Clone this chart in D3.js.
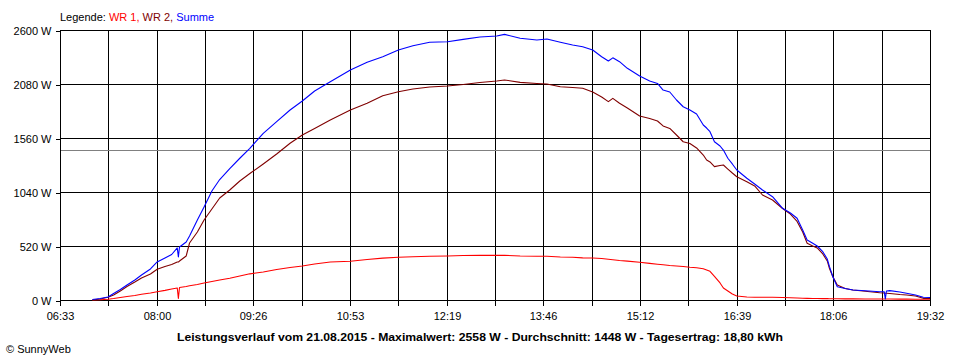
<!DOCTYPE html>
<html><head><meta charset="utf-8">
<script src="https://cdn.jsdelivr.net/npm/d3@7"></script>
<style>
body{margin:0;background:#fff}
svg text{font-family:"Liberation Sans",Arial,sans-serif}
</style>
</head><body>
<svg id="chart" width="960" height="360"></svg>
<script>
// ---- data ----
const times = ["07:02","07:09","07:16","07:21","07:27","07:33","07:40","07:46","07:54","08:00",
"08:07","08:13","08:18","08:19","08:20","08:26","08:29","08:36","08:42","08:49",
"08:56","09:05","09:14","09:23","09:35","09:47","09:59","10:10","10:21","10:35",
"10:53","11:08","11:22","11:36","11:49","12:04","12:20","12:34","12:49","13:04",
"13:11","13:25","13:40","13:49","14:01","14:12","14:21","14:30","14:38","14:44",
"14:48","14:54","15:01","15:12","15:21","15:28","15:33","15:39","15:45","15:51",
"15:57","16:03","16:09","16:12","16:15","16:19","16:24","16:27","16:31","16:35",
"16:39","16:48","16:55","17:02","17:11","17:20","17:27","17:33","17:38","17:42",
"17:47","17:51","17:56","18:00","18:02","18:05","18:09","18:16","18:23","18:34",
"18:47","18:51","18:52","18:53","18:56","19:05","19:11","19:19","19:26","19:32"];
const wr1 = [0,2,7,14,24,34,43,55,67,80,
93,106,116,14,120,130,137,149,164,178,
193,209,231,252,270,294,313,327,347,366,
373,390,403,411,417,422,424,429,430,430,
430,424,422,421,414,411,406,404,400,393,
388,380,374,364,353,345,340,332,327,323,
315,310,301,289,276,228,164,116,87,58,
39,29,26,26,26,24,21,19,17,16,
14,14,13,13,12,12,12,11,11,10,
10,9,9,9,9,8,8,7,7,7];
const wr2 = [0,10,26,48,87,130,173,212,250,296,
323,342,366,366,375,424,549,655,770,876,
982,1059,1146,1218,1310,1406,1509,1589,1651,1733,
1830,1894,1967,2006,2032,2051,2061,2075,2094,2109,
2119,2096,2085,2080,2054,2046,2039,2003,1955,1910,
1942,1894,1849,1772,1748,1724,1676,1652,1589,1524,
1507,1464,1396,1348,1329,1284,1295,1300,1261,1223,
1187,1139,1098,1011,963,881,828,756,655,546,
520,501,443,376,303,224,144,111,96,84,
70,67,65,65,63,53,48,39,16,14];
const summe = [5,14,29,63,101,144,193,241,299,366,
404,438,501,414,510,559,616,770,896,1050,
1160,1266,1365,1461,1605,1717,1830,1916,2013,2102,
2215,2289,2343,2407,2449,2482,2487,2510,2533,2542,
2558,2520,2504,2513,2482,2456,2439,2407,2343,2301,
2332,2295,2231,2157,2109,2085,2022,2003,1926,1861,
1830,1791,1685,1656,1621,1524,1483,1444,1365,1310,
1252,1172,1117,1059,995,883,838,787,674,578,
546,520,465,395,321,224,128,111,96,89,
80,80,10,87,90,77,65,48,26,24];
const yTicks = [0,520,1040,1560,2080,2600];
const xTickLabels = ["06:33","08:00","09:26","10:53","12:19","13:46","15:12","16:39","18:06","19:32"];
const xStart = "06:33", xEnd = "19:32";
const average = 1448;
const seriesNames = ["WR 1","WR 2","Summe"];
const seriesColors = ["#ff0000","#800000","#0000ff"];
const legendLabel = "Legende:";
const title = "Leistungsverlauf vom 21.08.2015 - Maximalwert: 2558 W - Durchschnitt: 1448 W - Tagesertrag: 18,80 kWh";
const copyright = "\u00A9 SunnyWeb";

// ---- drawing ----
const toMin = s => { const [h,m] = s.split(":").map(Number); return h*60+m; };
const svg = d3.select("#chart");
const L = 60, R = 930, T = 30, B = 300;
const x = d3.scaleLinear().domain([toMin(xStart), toMin(xEnd)]).range([L, R]);
const y = d3.scaleLinear().domain([0, 2600]).range([B, T]);

const nGrid = (xTickLabels.length - 1) * 2;
const x0 = toMin(xStart), x1 = toMin(xEnd);
const xGrid = d3.range(nGrid + 1).map(i => x0 + i * (x1 - x0) / nGrid);

const grid = svg.append("g").attr("shape-rendering","crispEdges").attr("stroke","#000").attr("stroke-width",1);
grid.selectAll(".v").data(xGrid).enter().append("line")
  .attr("x1", d => Math.round(x(d)) + 0.5).attr("x2", d => Math.round(x(d)) + 0.5)
  .attr("y1", T).attr("y2", B);
grid.selectAll(".h").data(yTicks).enter().append("line")
  .attr("x1", L).attr("x2", R + 1)
  .attr("y1", d => Math.round(y(d)) + 0.5).attr("y2", d => Math.round(y(d)) + 0.5);

// average line
svg.append("line").attr("shape-rendering","crispEdges")
  .attr("x1", L + 1).attr("x2", R)
  .attr("y1", Math.round(y(average)) + 0.5).attr("y2", Math.round(y(average)) + 0.5)
  .attr("stroke", "#808080");

// axes
const yAxis = d3.axisLeft(y).tickValues(yTicks).tickSize(5).tickPadding(4).tickFormat(d => d + " W");
const gy = svg.append("g").attr("transform", `translate(${L + 0.5},0.5)`).call(yAxis);
gy.select(".domain").remove();
gy.selectAll("line").attr("stroke", "#000").attr("shape-rendering","crispEdges");
gy.selectAll("text").attr("font-size", 11).attr("fill", "#000")
  .attr("y", d => Math.round(y(d)) - y(d));

const xAxis = d3.axisBottom(x).tickValues(xGrid).tickSize(5).tickPadding(7)
  .tickFormat((d, i) => i % 2 === 0 ? xTickLabels[i / 2] : "");
const gx = svg.append("g").attr("transform", `translate(0.5,${B + 0.5})`).call(xAxis);
gx.select(".domain").remove();
gx.selectAll(".tick").attr("transform", d => `translate(${Math.round(x(d))},0)`);
gx.selectAll("line").attr("stroke", "#000").attr("shape-rendering","crispEdges");
gx.selectAll("text").attr("font-size", 11).attr("fill", "#000");

// series
const seriesData = [wr1, wr2, summe];
const line = d3.line().x((d, i) => x(toMin(times[i]))).y(d => y(d));
seriesData.forEach((vals, k) => {
  svg.append("path").datum(vals)
    .attr("d", line)
    .attr("fill", "none")
    .attr("stroke", seriesColors[k])
    .attr("stroke-width", 1.1)
    .attr("stroke-linejoin", "round");
});

// legend
const leg = svg.append("text").attr("x", 60).attr("y", 20.5).attr("font-size", 11);
leg.append("tspan").attr("fill", "#000").text(legendLabel + " ");
seriesNames.forEach((n, k) => {
  leg.append("tspan").attr("fill", seriesColors[k]).text(n + (k < seriesNames.length - 1 ? ", " : ""));
});

// title
svg.append("text").attr("x", 480).attr("y", 340.5).attr("text-anchor", "middle")
  .attr("font-size", 11.5).attr("font-weight", "bold").attr("fill", "#000")
  .attr("textLength", 606).attr("lengthAdjust", "spacingAndGlyphs")
  .text(title);

svg.append("text").attr("x", 6).attr("y", 353).attr("font-size", 11).attr("fill", "#000")
  .text(copyright);
</script>
</body></html>
